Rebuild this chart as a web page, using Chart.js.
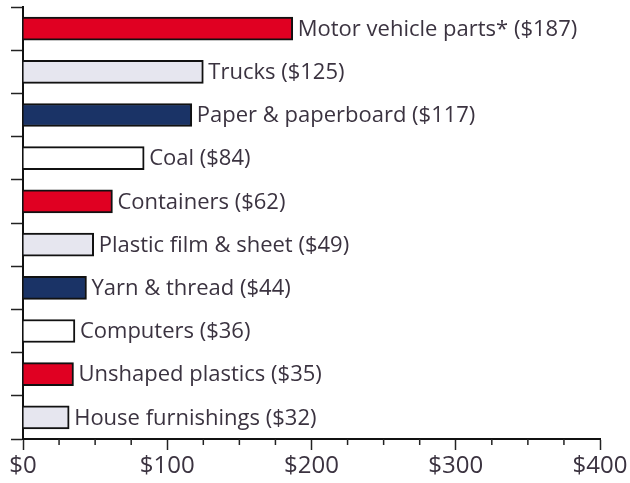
<!DOCTYPE html>
<html>
<head>
<meta charset="utf-8">
<script src="https://cdn.jsdelivr.net/npm/chart.js@4.4.1/dist/chart.umd.min.js"></script>
<style>
  html, body { margin: 0; padding: 0; background: #fff; }
  #wrap { width: 630px; height: 483px; position: relative; }
</style>
</head>
<body>
<div id="wrap"><canvas id="chart"></canvas></div>
<script>
const categories = [
  'Motor vehicle parts*', 'Trucks', 'Paper & paperboard', 'Coal', 'Containers',
  'Plastic film & sheet', 'Yarn & thread', 'Computers', 'Unshaped plastics', 'House furnishings'
];
const values = [187, 125, 117, 84, 62, 49, 44, 36, 35, 32];
const xTicks = [0, 100, 200, 300, 400];

const palette = ['#e00022', '#e6e6ef', '#1a3366', '#ffffff'];
const textColor = '#3b3340';

// small ticks between the labelled ones on the value axis
const minorTicks = {
  id: 'minorTicks',
  afterDraw(chart) {
    const x = chart.scales.x;
    const ctx = chart.ctx;
    const y0 = chart.chartArea.bottom;
    ctx.save();
    ctx.strokeStyle = '#222';
    ctx.lineWidth = 1.5;
    for (let v = 25; v < 400; v += 25) {
      if (v % 100 === 0) continue;
      const px = x.getPixelForValue(v);
      ctx.beginPath();
      ctx.moveTo(px, y0);
      ctx.lineTo(px, y0 + 6);
      ctx.stroke();
    }
    ctx.restore();
  }
};

// "Name ($value)" right of every bar
const barLabels = {
  id: 'barLabels',
  afterDatasetsDraw(chart) {
    const ctx = chart.ctx;
    const meta = chart.getDatasetMeta(0);
    ctx.save();
    ctx.font = '22px "Open Sans"';
    ctx.fillStyle = textColor;
    ctx.textBaseline = 'middle';
    ctx.textAlign = 'left';
    meta.data.forEach((bar, i) => {
      ctx.fillText(`${categories[i]} ($${values[i]})`, bar.x + 5, bar.y + 1);
    });
    ctx.restore();
  }
};

new Chart(document.getElementById('chart').getContext('2d'), {
  type: 'bar',
  data: {
    labels: categories,
    datasets: [{
      data: values,
      backgroundColor: values.map((v, i) => palette[i % 4]),
      borderColor: '#111',
      borderWidth: 2,
      barThickness: 23,
    }],
  },
  plugins: [minorTicks, barLabels],
  options: {
    indexAxis: 'y',
    responsive: true,
    maintainAspectRatio: false,
    animation: false,
    layout: { padding: { top: 7, right: 30, left: 0, bottom: 0 } },
    plugins: { legend: { display: false }, tooltip: { enabled: false } },
    scales: {
      x: {
        min: 0,
        max: 400,
        afterBuildTicks: (scale) => { scale.ticks = xTicks.map((v) => ({ value: v })); },
        afterFit: (scale) => { scale.height = 44; },
        grid: { drawOnChartArea: false, tickLength: 11, tickColor: '#222', tickWidth: 1.5 },
        border: { color: '#111', width: 2 },
        ticks: {
          color: textColor,
          padding: 2,
          font: { family: 'Open Sans', size: 24 },
          callback: (v) => '$' + v,
        },
      },
      y: {
        offset: true,
        afterFit: (scale) => { scale.width = 23; },
        grid: { drawOnChartArea: false, offset: true, tickLength: 12, tickColor: '#222', tickWidth: 1.5 },
        border: { color: '#111', width: 2 },
        ticks: { display: false },
      },
    },
  },
});
</script>
</body>
</html>
